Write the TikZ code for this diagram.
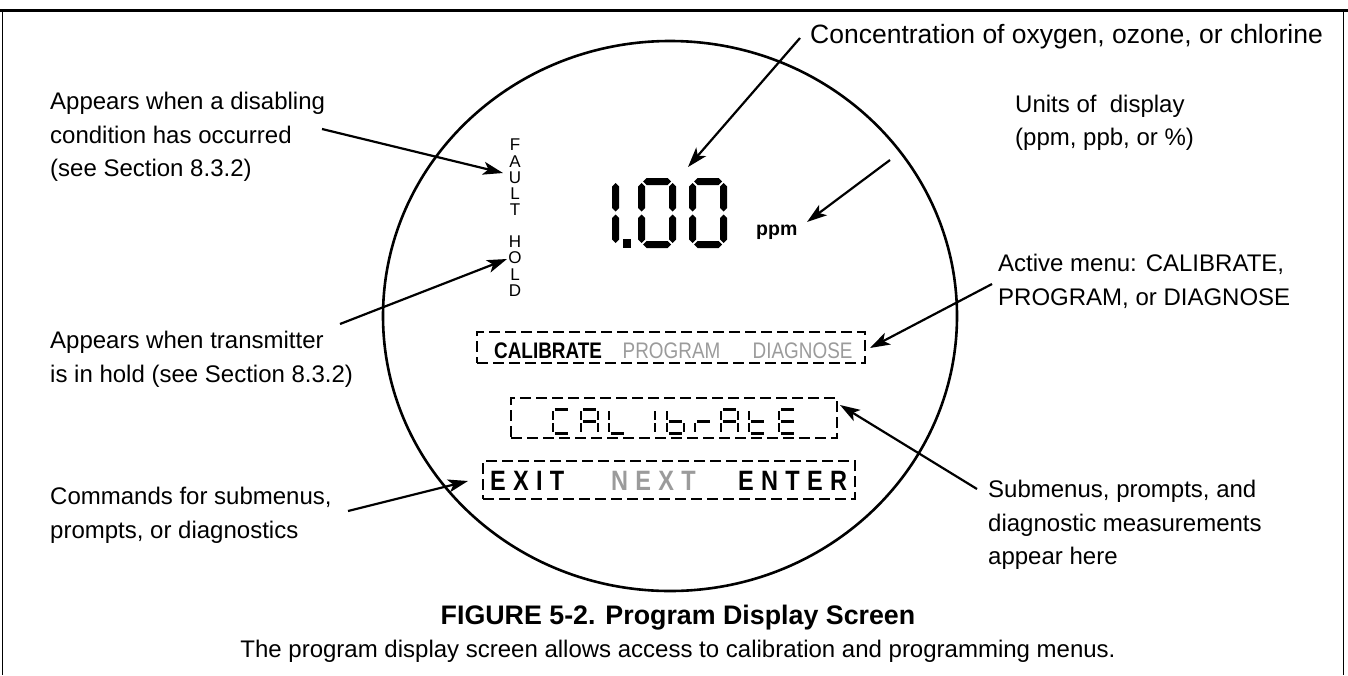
\documentclass[tikz,border=0pt]{standalone}
\usepackage{fontspec}
\setmainfont{Liberation Sans}
\newfontfamily\narrowsans[FakeStretch=0.84]{Liberation Sans}
\newfontfamily\cmdsans[FakeStretch=0.84,LetterSpace=26]{Liberation Sans}
\usetikzlibrary{arrows.meta,calc}
\definecolor{lcdgray}{RGB}{155,155,155}
% big LCD segments (x, y = top-left, length)
\newcommand{\lcdH}[3]{\fill (#1,#2+3.5) -- ++(3.5,-3.5) -- ++(#3-7,0) -- ++(3.5,3.5) -- ++(-3.5,3.5) -- ++(7-#3,0) -- cycle;}
\newcommand{\lcdV}[3]{\fill (#1+3.5,#2) -- ++(3.5,3.5) -- ++(0,#3-7) -- ++(-3.5,3.5) -- ++(-3.5,-3.5) -- ++(0,7-#3) -- cycle;}
\newcommand{\lcdZero}[1]{%
  \lcdH{#1+5}{178}{28}\lcdH{#1+5}{241}{28}%
  \lcdV{#1}{183}{28.5}\lcdV{#1}{214.5}{28.5}%
  \lcdV{#1+31}{183}{28.5}\lcdV{#1+31}{214.5}{28.5}}
% small LCD segments (x = left of glyph)
\newcommand{\lsA}[1]{\draw[sseg] (#1+1.8,409.5) -- (#1+15.2,409.5);}
\newcommand{\lsB}[1]{\draw[sseg] (#1+17,411.3) -- (#1+17,419.7);}
\newcommand{\lsC}[1]{\draw[sseg] (#1+17,423.3) -- (#1+17,431.7);}
\newcommand{\lsD}[1]{\draw[sseg] (#1+1.8,433.5) -- (#1+15.2,433.5);}
\newcommand{\lsE}[1]{\draw[sseg] (#1,423.3) -- (#1,431.7);}
\newcommand{\lsF}[1]{\draw[sseg] (#1,411.3) -- (#1,419.7);}
\newcommand{\lsG}[1]{\draw[sseg] (#1+1.8,421.5) -- (#1+15.2,421.5);}
\begin{document}
\begin{tikzpicture}[x=1pt,y=-1pt,
  lbl/.style={font=\fontsize{24}{33.5}\selectfont, align=left, inner sep=0pt, anchor=west},
  arr/.style={line width=2.2pt, -{Stealth[length=20pt,width=13pt,inset=5pt]}},
  dbox/.style={draw, line width=2.8pt, dash pattern=on 11pt off 5pt, inner sep=0pt},
  sseg/.style={line width=2.8pt},
  menutxt/.style={font=\narrowsans\fontsize{22.5}{24}\selectfont, inner sep=0pt, anchor=base west},
  cmdtxt/.style={font=\cmdsans\bfseries\fontsize{28}{30}\selectfont, inner sep=0pt, anchor=base west},
  vlet/.style={font=\fontsize{17}{16.3}\selectfont, align=center, inner sep=0pt}]
\useasboundingbox (0,0) rectangle (1348,675);
% frame
\draw[line width=3pt] (0,10) -- (1348,10);
\draw[line width=1.8pt] (2.5,10) -- (2.5,675);
\draw[line width=1.8pt] (1343.5,10) -- (1343.5,675);
% display outline
\draw[line width=2.6pt] (670,316) ellipse [x radius=287, y radius=275];
% main reading 1.00
\lcdV{612}{183}{28.5}\lcdV{612}{214.5}{28.5}
\fill (623,239) rectangle (631,248);
\lcdZero{638}
\lcdZero{689}
\node[font=\bfseries\fontsize{19.5}{22}\selectfont, inner sep=0pt, anchor=base west] (ppm) at (756,235) {ppm};
% FAULT / HOLD
\node[vlet] (fault) at (515,177.5) {F\\A\\U\\L\\T};
\node[vlet] (hold) at (515,266) {H\\O\\L\\D};
% menu bar
\node[dbox, minimum width=388pt, minimum height=31pt] (menu) at (671,347.5) {};
\node[menutxt, font=\narrowsans\bfseries\fontsize{22.5}{24}\selectfont] (mcal) at (494,358) {CALIBRATE};
\node[menutxt, text=lcdgray] (mprog) at (622.5,358) {PROGRAM};
\node[menutxt, text=lcdgray] (mdiag) at (752.5,358) {DIAGNOSE};
% submenu display
\node[dbox, minimum width=326pt, minimum height=40pt] (sub) at (674,418) {};
% C
\lsA{553}\lsD{553}\lsE{553}\lsF{553}
% A
\lsA{581}\lsB{581}\lsC{581}\lsE{581}\lsF{581}\lsG{581}
% L
\lsD{609}\lsE{609}\lsF{609}
% I
\lsE{655}\lsF{655}
% b
\lsC{667}\lsD{667}\lsE{667}\lsF{667}\lsG{667}
% r
\lsE{695}\lsG{695}
% A
\lsA{721}\lsB{721}\lsC{721}\lsE{721}\lsF{721}\lsG{721}
% t
\lsD{749}\lsE{749}\lsF{749}\lsG{749}
% E
\lsA{779}\lsD{779}\lsE{779}\lsF{779}\lsG{779}
% command bar
\node[dbox, minimum width=372pt, minimum height=38pt] (cmd) at (669,480) {};
\node[cmdtxt] (cexit) at (490,490) {EXIT};
\node[cmdtxt, text=lcdgray] (cnext) at (611,490) {NEXT};
\node[cmdtxt] (center) at (738,490) {ENTER};
% labels
\node[lbl] (l1) at (50,137) {Appears when a disabling\\condition has occurred\\(see Section 8.3.2)};
\node[lbl] (l2) at (50,359.5) {Appears when transmitter\\is in hold (see Section 8.3.2)};
\node[lbl] (l3) at (50,515.5) {Commands for submenus,\\prompts, or diagnostics};
\node[font=\fontsize{26.5}{30}\selectfont, inner sep=0pt, anchor=west] (r1) at (810,37) {Concentration of oxygen, ozone, or chlorine};
\node[lbl] (r2) at (1015,123) {Units of\ \ display\\(ppm, ppb, or \%)};
\node[lbl] (r3) at (998,281.5) {Active menu: CALIBRATE,\\PROGRAM, or DIAGNOSE};
\node[lbl] (r4) at (988,525) {Submenus, prompts, and\\diagnostic measurements\\appear here};
% caption
\node[font=\bfseries\fontsize{26.8}{30}\selectfont, inner sep=0pt] (title) at (678,618) {FIGURE 5-2. Program Display Screen};
\node[font=\fontsize{24}{28}\selectfont, inner sep=0pt] (subtitle) at (678,651) {The program display screen allows access to calibration and programming menus.};
% connectors
\coordinate (s1) at (322,129); \coordinate (e1) at (503,173);
\coordinate (s2) at (340,324); \coordinate (e2) at (507,259);
\coordinate (s3) at (348,511); \coordinate (e3) at (468,481);
\coordinate (s4) at (800,38);  \coordinate (e4) at (688,167);
\coordinate (s5) at (890,160); \coordinate (e5) at (807,222);
\coordinate (s6) at (992,284); \coordinate (e6) at (870,348);
\coordinate (s7) at (977,489); \coordinate (e7) at (840,405);
\draw[arr] (s1) -- (e1);
\draw[arr] (s2) -- (e2);
\draw[arr] (s3) -- (e3);
\draw[arr] (s4) -- (e4);
\draw[arr] (s5) -- (e5);
\draw[arr] (s6) -- (e6);
\draw[arr] (s7) -- (e7);
\end{tikzpicture}
\end{document}
